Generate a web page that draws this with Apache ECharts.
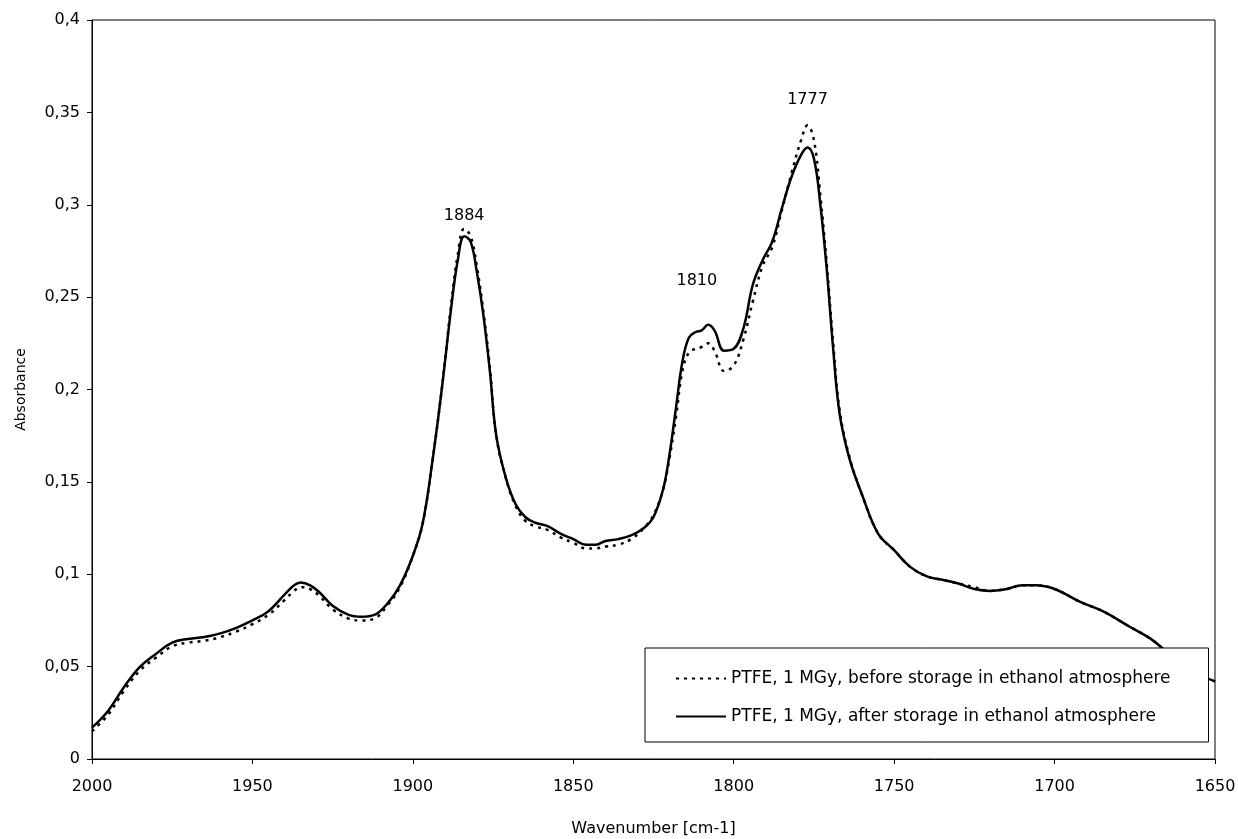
<!DOCTYPE html>
<html>
<head>
<meta charset="utf-8">
<script src="https://cdn.jsdelivr.net/npm/echarts@6/dist/echarts.min.js"></script>
<style>html,body{margin:0;padding:0;background:#fff;}#c{width:1238px;height:839px;}</style>
</head>
<body>
<div id="c"></div>
<script>
const wavenumbers = [2000,1995,1990,1985,1980,1975,1970,1965,1960,1955,1950,1945,1940,1937,1935,1932,1929,1925,1920,1916,1912,1908,1904,1900,1897,1894,1891,1888,1886,1884,1882,1880,1878,1876,1874,1871,1868,1865,1862,1858,1854,1850,1846,1843,1840,1836,1832,1828,1825,1822,1820,1818,1816,1814,1812,1810,1808,1806,1803,1800,1797,1794,1791,1788,1785,1782,1779,1777,1775,1773,1771,1769,1767,1764,1760,1755,1750,1745,1740,1735,1730,1725,1720,1715,1710,1706,1700,1692,1685,1677,1670,1665,1660,1655,1650];
const afterStorage = [0.017,0.026,0.039,0.050,0.057,0.063,0.065,0.066,0.068,0.071,0.075,0.080,0.089,0.094,0.0955,0.094,0.090,0.083,0.078,0.077,0.078,0.084,0.094,0.110,0.127,0.160,0.200,0.245,0.270,0.283,0.280,0.263,0.240,0.210,0.175,0.152,0.138,0.131,0.128,0.126,0.122,0.119,0.116,0.116,0.118,0.119,0.121,0.125,0.131,0.146,0.165,0.190,0.215,0.228,0.231,0.232,0.235,0.232,0.221,0.222,0.233,0.257,0.270,0.280,0.298,0.315,0.327,0.331,0.325,0.300,0.265,0.222,0.187,0.163,0.143,0.122,0.113,0.104,0.099,0.097,0.095,0.092,0.091,0.092,0.094,0.094,0.092,0.085,0.080,0.072,0.065,0.058,0.052,0.046,0.042];
const beforeStorage = [0.015,0.024,0.037,0.048,0.055,0.061,0.063,0.064,0.066,0.069,0.073,0.078,0.086,0.091,0.093,0.092,0.088,0.081,0.076,0.075,0.076,0.083,0.093,0.110,0.127,0.160,0.200,0.247,0.273,0.287,0.283,0.266,0.242,0.212,0.175,0.152,0.137,0.129,0.126,0.124,0.120,0.117,0.114,0.114,0.115,0.116,0.119,0.125,0.132,0.146,0.163,0.185,0.210,0.220,0.222,0.223,0.225,0.221,0.210,0.213,0.227,0.248,0.267,0.277,0.297,0.317,0.335,0.343,0.335,0.305,0.268,0.225,0.189,0.164,0.143,0.122,0.113,0.104,0.099,0.097,0.095,0.093,0.091,0.092,0.094,0.094,0.092,0.085,0.080,0.072,0.065,0.058,0.052,0.046,0.042];
const peakLabels = ['1884','1810','1777'];
const peakLabelX = [1884, 1811.5, 1777];
const peakLabelY = [0.294, 0.259, 0.357];
const xTicks = [2000,1950,1900,1850,1800,1750,1700,1650];
const yTicks = [0,0.05,0.1,0.15,0.2,0.25,0.3,0.35,0.4];
const seriesNames = ['PTFE, 1 MGy, before storage in ethanol atmosphere','PTFE, 1 MGy, after storage in ethanol atmosphere'];

const font = 'DejaVu Sans';
const chart = echarts.init(document.getElementById('c'), null, {renderer:'canvas'});
const pair = (ys) => wavenumbers.map((w,i)=>[w, ys[i]]);
chart.setOption({
  animation:false,
  backgroundColor:'#fff',
  grid:{left:92,right:23,top:20,bottom:80,show:true,borderColor:'#000',borderWidth:1,
    backgroundColor:'transparent',containLabel:false,outerBoundsMode:'none'},
  xAxis:{type:'value',inverse:true,min:xTicks[xTicks.length-1],max:xTicks[0],interval:50,
    name:'Wavenumber [cm-1]',nameLocation:'middle',nameGap:62,
    nameTextStyle:{fontFamily:font,fontSize:16,color:'#000'},
    axisLine:{onZero:false,lineStyle:{color:'#000',width:1}},
    axisTick:{show:true,inside:false,length:5,lineStyle:{color:'#000'}},
    axisLabel:{fontFamily:font,fontSize:16,color:'#000',margin:20,formatter:v=>String(v)},
    splitLine:{show:false}},
  yAxis:{type:'value',min:yTicks[0],max:yTicks[yTicks.length-1],interval:0.05,
    name:'Absorbance',nameLocation:'middle',nameGap:64,nameRotate:90,
    nameTextStyle:{fontFamily:font,fontSize:14,color:'#000'},
    axisLine:{lineStyle:{color:'#000',width:1}},
    axisTick:{show:true,inside:false,length:5,lineStyle:{color:'#000'}},
    axisLabel:{fontFamily:font,fontSize:16,color:'#000',margin:12,
      formatter:v=> v===0?'0':String(+v.toFixed(2)).replace('.',',')},
    splitLine:{show:false}},
  legend:{show:true,orient:'vertical',left:645,top:648,
    backgroundColor:'#fff',borderColor:'#000',borderWidth:1,
    padding:[22,38,17,30],itemGap:21,itemWidth:50,itemHeight:14,
    itemStyle:{opacity:0},
    textStyle:{fontFamily:font,fontSize:17,color:'#000'},
    data:seriesNames},
  series:[
    {name:seriesNames[0],type:'line',smooth:0.4,symbol:'none',data:pair(beforeStorage),
     lineStyle:{color:'#000',width:2.5,type:[3,5]},itemStyle:{color:'#000'},z:3},
    {name:seriesNames[1],type:'line',smooth:0.4,symbol:'none',data:pair(afterStorage),
     lineStyle:{color:'#000',width:2.5,type:'solid'},itemStyle:{color:'#000'},z:3},
    {name:'peaks',type:'scatter',symbol:'circle',symbolSize:0.01,silent:true,
     itemStyle:{color:'#000',opacity:1},
     data:peakLabelX.map((x,i)=>({value:[x,peakLabelY[i]],label:{formatter:peakLabels[i],color:'#000'}})),
     label:{show:true,position:'inside',fontFamily:font,fontSize:16,color:'#000',textBorderWidth:0},z:5}
  ]
});
</script>
</body>
</html>
